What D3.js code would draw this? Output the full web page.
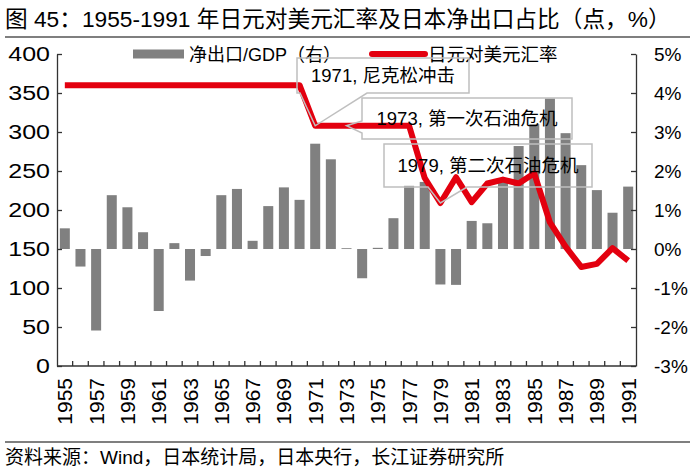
<!DOCTYPE html>
<html><head><meta charset="utf-8">
<script src="https://cdn.jsdelivr.net/npm/d3@7"></script>
<style>
body{margin:0;background:#fff;}
svg text{font-family:"Liberation Sans","Noto Sans CJK SC",Arial,sans-serif;}
</style></head>
<body><svg id="c" width="700" height="470"></svg>
<script>
const years = d3.range(1955, 1992).map(String);
const netExportPct = [0.53,-0.45,-2.09,1.38,1.07,0.43,-1.59,0.15,-0.81,-0.18,1.38,1.54,0.21,1.10,1.58,1.26,2.70,2.30,0.02,-0.75,0.03,0.79,1.62,1.72,-0.91,-0.92,0.72,0.66,1.77,2.64,3.20,3.86,2.97,2.15,1.51,0.93,1.60];
const usdJpy = [360,360,360,360,360,360,360,360,360,360,360,360,360,360,360,360,308,308,308,308,308,308,308,241,209,242,210,234,239,234,247,184,153,127,131,151,135];
const leftTicks = [0,50,100,150,200,250,300,350,400];
const rightTicks = [-3,-2,-1,0,1,2,3,4,5];
const xLabels = years.filter((d,i)=>i%2===0);
const notes = [
  {year:"1971", text:"1971, 尼克松冲击"},
  {year:"1973", text:"1973, 第一次石油危机"},
  {year:"1979", text:"1979, 第二次石油危机"}
];
const titleText = "图 45：1955-1991 年日元对美元汇率及日本净出口占比（点，%）";
const sourceText = "资料来源：Wind，日本统计局，日本央行，长江证券研究所";
const legendBar = "净出口/GDP（右）";
const legendLine = "日元对美元汇率";

const svg = d3.select("#c");
const L=57, R=636, T=54, B=366;
const x = d3.scaleBand().domain(years).range([L,R]).paddingInner(0.36).paddingOuter(0.18);
const yL = d3.scaleLinear().domain([0,400]).range([B,T]);
const yR = d3.scaleLinear().domain([-3,5]).range([B,T]);

// title
svg.append("text").attr("x",5).attr("y",27).attr("font-size",22.7).attr("fill","#000").text(titleText);
svg.append("line").attr("x1",5).attr("x2",690).attr("y1",37).attr("y2",37).attr("stroke","#555").attr("stroke-width",1.5);

// bars
svg.append("g").selectAll("rect").data(netExportPct).join("rect")
  .attr("x",(d,i)=>x(years[i])).attr("width",x.bandwidth())
  .attr("y",d=>yR(Math.max(0,d))).attr("height",d=>Math.max(0.8,Math.abs(yR(d)-yR(0))))
  .attr("fill","#808080");

// axes
const axL = svg.append("g").attr("transform",`translate(${L},0)`)
  .call(d3.axisLeft(yL).tickValues(leftTicks).tickSizeInner(-5).tickSizeOuter(0).tickPadding(7));
const axR = svg.append("g").attr("transform",`translate(${R},0)`)
  .call(d3.axisRight(yR).tickValues(rightTicks).tickSizeInner(-5).tickSizeOuter(0).tickPadding(18).tickFormat(d=>d+"%"));
[axL,axR].forEach(a=>{
  a.select(".domain").attr("stroke","#333").attr("stroke-width",1.3);
  a.selectAll(".tick line").attr("stroke","#333").attr("stroke-width",1.3);
  a.selectAll(".tick text").attr("fill","#000").attr("font-family","Liberation Sans, Arial, sans-serif");
});
axL.selectAll(".tick text").attr("font-size",20).attr("x",null)
  .attr("transform","translate(-7,0) scale(1.25,1)");
axR.selectAll(".tick text").attr("font-size",19);

// bottom axis
const gB = svg.append("g");
gB.append("line").attr("x1",L).attr("x2",R).attr("y1",B).attr("y2",B).attr("stroke","#333").attr("stroke-width",1.3);
const half = x.step()*x.paddingInner()/2;
gB.selectAll("line.t").data(years.slice(1)).join("line").attr("class","t")
  .attr("x1",d=>x(d)-half).attr("x2",d=>x(d)-half).attr("y1",B).attr("y2",B-5)
  .attr("stroke","#333").attr("stroke-width",1.3);
gB.selectAll("text").data(xLabels).join("text")
  .attr("transform",d=>`translate(${x(d)+x.bandwidth()/2+7.5},${B+12}) rotate(-90)`)
  .attr("text-anchor","end").attr("font-size",21).attr("fill","#000").text(d=>d);

// line
const line = d3.line().x((d,i)=>x(years[i])+x.bandwidth()/2).y(d=>yL(d));
svg.append("path").datum(usdJpy).attr("d",line).attr("fill","none")
  .attr("stroke","#e3000f").attr("stroke-width",6).attr("stroke-linejoin","round");

// legend
svg.append("rect").attr("x",133).attr("y",49.5).attr("width",51).attr("height",9).attr("fill","#808080");
svg.append("text").attr("x",189).attr("y",61).attr("font-size",18).attr("fill","#000").text(legendBar);
svg.append("line").attr("x1",372).attr("x2",425).attr("y1",54).attr("y2",54).attr("stroke","#e3000f").attr("stroke-width",6).attr("stroke-linecap","round");
svg.append("text").attr("x",428).attr("y",61).attr("font-size",18.5).attr("fill","#000").text(legendLine);

// callouts
const boxes = [
  {x0:297,x1:469,y0:58,y1:93, wedge:"bottom", w0:300, w1:367},
  {x0:362,x1:572,y0:98,y1:139, wedge:"left", w0:121, w1:133},
  {x0:384,x1:592,y0:144,y1:187, wedge:"bottom", w0:428, w1:467}
];
notes.forEach((n,k)=>{
  const b = boxes[k];
  const i = years.indexOf(n.year);
  const tx = x(n.year)+x.bandwidth()/2, ty = yL(usdJpy[i]);
  let p;
  if(b.wedge==="bottom"){
    p = `M${b.x0},${b.y0}H${b.x1}V${b.y1}H${b.w1}L${tx},${ty}L${b.w0},${b.y1}H${b.x0}Z`;
  } else {
    p = `M${b.x0},${b.y0}H${b.x1}V${b.y1}H${b.x0}V${b.w1}L${tx},${ty}L${b.x0},${b.w0}Z`;
  }
  svg.append("path").attr("d",p).attr("fill","none").attr("stroke","#bfbfbf").attr("stroke-width",1.5);
  svg.append("text").attr("x",(b.x0+b.x1)/2).attr("y",(b.y0+b.y1)/2+6.5).attr("text-anchor","middle")
    .attr("font-size",18.5).attr("fill","#000").text(n.text);
});

// source
svg.append("line").attr("x1",5).attr("x2",690).attr("y1",442).attr("y2",442).attr("stroke","#555").attr("stroke-width",1.5);
svg.append("text").attr("x",5).attr("y",464).attr("font-size",19).attr("fill","#000").text(sourceText);
</script></body></html>
